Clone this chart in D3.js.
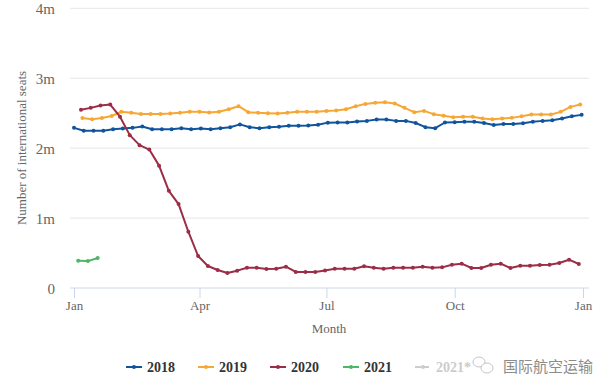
<!DOCTYPE html>
<html>
<head>
<meta charset="utf-8">
<script src="https://cdn.jsdelivr.net/npm/d3@7"></script>
<style>
  html, body { margin: 0; padding: 0; background: #fff; }
  svg { display: block; }
</style>
</head>
<body>
<svg id="chart" width="611" height="392"></svg>
<script>
// Weekly international seats (millions), first week start offset in days from Jan 1
const series2018 = [2.29, 2.25, 2.25, 2.25, 2.27, 2.28, 2.29, 2.31, 2.27, 2.27, 2.27, 2.285, 2.27,
  2.28, 2.27, 2.285, 2.30, 2.34, 2.30, 2.285, 2.30, 2.305, 2.32, 2.32, 2.325, 2.335,
  2.365, 2.367, 2.367, 2.38, 2.39, 2.41, 2.41, 2.39, 2.39, 2.36, 2.30, 2.285, 2.367,
  2.37, 2.376, 2.376, 2.361, 2.33, 2.347, 2.347, 2.357, 2.376, 2.39, 2.40, 2.424, 2.457, 2.476];
const series2019 = [2.43, 2.415, 2.43, 2.46, 2.52, 2.505, 2.49, 2.49, 2.49, 2.495, 2.505, 2.52,
  2.52, 2.51, 2.52, 2.557, 2.60, 2.514, 2.505, 2.50, 2.495, 2.505, 2.52, 2.52, 2.52,
  2.533, 2.538, 2.557, 2.60, 2.633, 2.648, 2.657, 2.638, 2.576, 2.514, 2.533, 2.486,
  2.462, 2.443, 2.448, 2.448, 2.424, 2.414, 2.424, 2.433, 2.457, 2.481, 2.481, 2.48,
  2.519, 2.59, 2.624];
const series2020 = [2.548, 2.576, 2.61, 2.624, 2.45, 2.186, 2.043, 1.98, 1.75, 1.39, 1.20, 0.805,
  0.457, 0.314, 0.257, 0.214, 0.248, 0.29, 0.29, 0.271, 0.276, 0.305, 0.229, 0.229,
  0.229, 0.25, 0.276, 0.276, 0.276, 0.31, 0.29, 0.276, 0.29, 0.29, 0.29, 0.305, 0.29,
  0.295, 0.333, 0.348, 0.286, 0.286, 0.333, 0.348, 0.286, 0.319, 0.319, 0.329, 0.333,
  0.357, 0.405, 0.343];
const series2021 = [0.39, 0.385, 0.43];

const seriesNames = ["2018", "2019", "2020", "2021"];
const seriesStartDay = [0, 6, 5, 3];
const seriesColors = ["#10549e", "#f8a634", "#9b2d46", "#4cb768"];
const yTicks = [0, 1, 2, 3, 4];
const legendNames = ["2018", "2019", "2020", "2021", "2021*"];
const legendColors = ["#10549e", "#f8a634", "#9b2d46", "#4cb768", "#cccccc"];

const allSeries = [series2018, series2019, series2020, series2021];

const svg = d3.select("#chart");
const serif = "'Liberation Serif', 'Times New Roman', serif";

const x = d3.scaleUtc()
  .domain([new Date(Date.UTC(2018, 0, 1)), new Date(Date.UTC(2019, 0, 1))])
  .range([74, 583]);
const y = d3.scaleLinear().domain([0, 4]).range([288, 8.3]);

const plotLeft = 70, plotRight = 589;

// gridlines
svg.append("g").selectAll("line")
  .data(yTicks.filter(d => d > 0))
  .join("line")
  .attr("x1", plotLeft).attr("x2", plotRight)
  .attr("y1", d => y(d)).attr("y2", d => y(d))
  .attr("stroke", "#e6e6e6").attr("stroke-width", 1);

// y axis labels
const yAxis = d3.axisLeft(y).tickValues(yTicks)
  .tickFormat(d => d === 0 ? "0" : d + "m").tickSize(0).tickPadding(0);
const gy = svg.append("g").attr("transform", "translate(55,0)").call(yAxis);
gy.select(".domain").remove();
gy.selectAll("text").attr("font-family", serif).attr("font-size", 15)
  .attr("fill", "#666").attr("dy", "0.35em");

// x axis
const xAxis = d3.axisBottom(x).ticks(d3.utcMonth.every(3))
  .tickFormat(d3.utcFormat("%b")).tickSize(10).tickPadding(3);
const gx = svg.append("g").attr("transform", "translate(0,288)").call(xAxis);
gx.select(".domain").attr("d", `M${plotLeft},0H${plotRight}`).attr("stroke", "#ccd6eb");
gx.selectAll(".tick line").attr("stroke", "#ccd6eb");
gx.selectAll("text").attr("font-family", serif).attr("font-size", 13).attr("fill", "#666");

// axis titles
svg.append("text").attr("x", 329).attr("y", 333).attr("text-anchor", "middle")
  .attr("font-family", serif).attr("font-size", 13).attr("fill", "#666").text("Month");
svg.append("text").attr("transform", "translate(26,148) rotate(-90)")
  .attr("text-anchor", "middle").attr("font-family", serif).attr("font-size", 13)
  .attr("fill", "#666").text("Number of international seats");

// lines
const line = d3.line().x(d => x(d.date)).y(d => y(d.v));
allSeries.forEach((vals, si) => {
  const pts = vals.map((v, i) => ({
    date: new Date(Date.UTC(2018, 0, 1 + seriesStartDay[si] + 7 * i)), v
  }));
  const g = svg.append("g");
  g.append("path").datum(pts).attr("d", line).attr("fill", "none")
    .attr("stroke", seriesColors[si]).attr("stroke-width", 2)
    .attr("stroke-linejoin", "round").attr("stroke-linecap", "round");
  g.selectAll("circle").data(pts).join("circle")
    .attr("cx", d => x(d.date)).attr("cy", d => y(d.v)).attr("r", 2)
    .attr("fill", seriesColors[si]);
});

// legend
const legendX = [126, 198, 270, 343, 415];
const legendY = 367;
const lg = svg.append("g");
legendNames.forEach((name, i) => {
  const gx0 = legendX[i];
  const item = lg.append("g");
  item.append("line").attr("x1", gx0).attr("x2", gx0 + 16)
    .attr("y1", legendY).attr("y2", legendY)
    .attr("stroke", legendColors[i]).attr("stroke-width", 2)
    .attr("stroke-dasharray", i === 4 ? "6,2" : null);
  item.append("circle").attr("cx", gx0 + 8).attr("cy", legendY).attr("r", 2)
    .attr("fill", legendColors[i]);
  item.append("text").attr("x", gx0 + 21).attr("y", legendY + 5)
    .attr("font-family", serif).attr("font-size", 14).attr("font-weight", "bold")
    .attr("fill", i === 4 ? "#cccccc" : "#333").text(name);
});

// watermark
const wm = svg.append("g").attr("opacity", 0.85);
wm.append("ellipse").attr("cx", 479).attr("cy", 362).attr("rx", 6).attr("ry", 5)
  .attr("fill", "none").attr("stroke", "#bbb").attr("stroke-width", 1);
wm.append("ellipse").attr("cx", 487).attr("cy", 368).attr("rx", 6).attr("ry", 5)
  .attr("fill", "#fff").attr("stroke", "#bbb").attr("stroke-width", 1);
wm.append("text").attr("x", 503).attr("y", 372)
  .attr("font-family", "'Noto Sans CJK SC', sans-serif").attr("font-size", 15)
  .attr("fill", "#777").text("国际航空运输");
</script>
</body>
</html>
